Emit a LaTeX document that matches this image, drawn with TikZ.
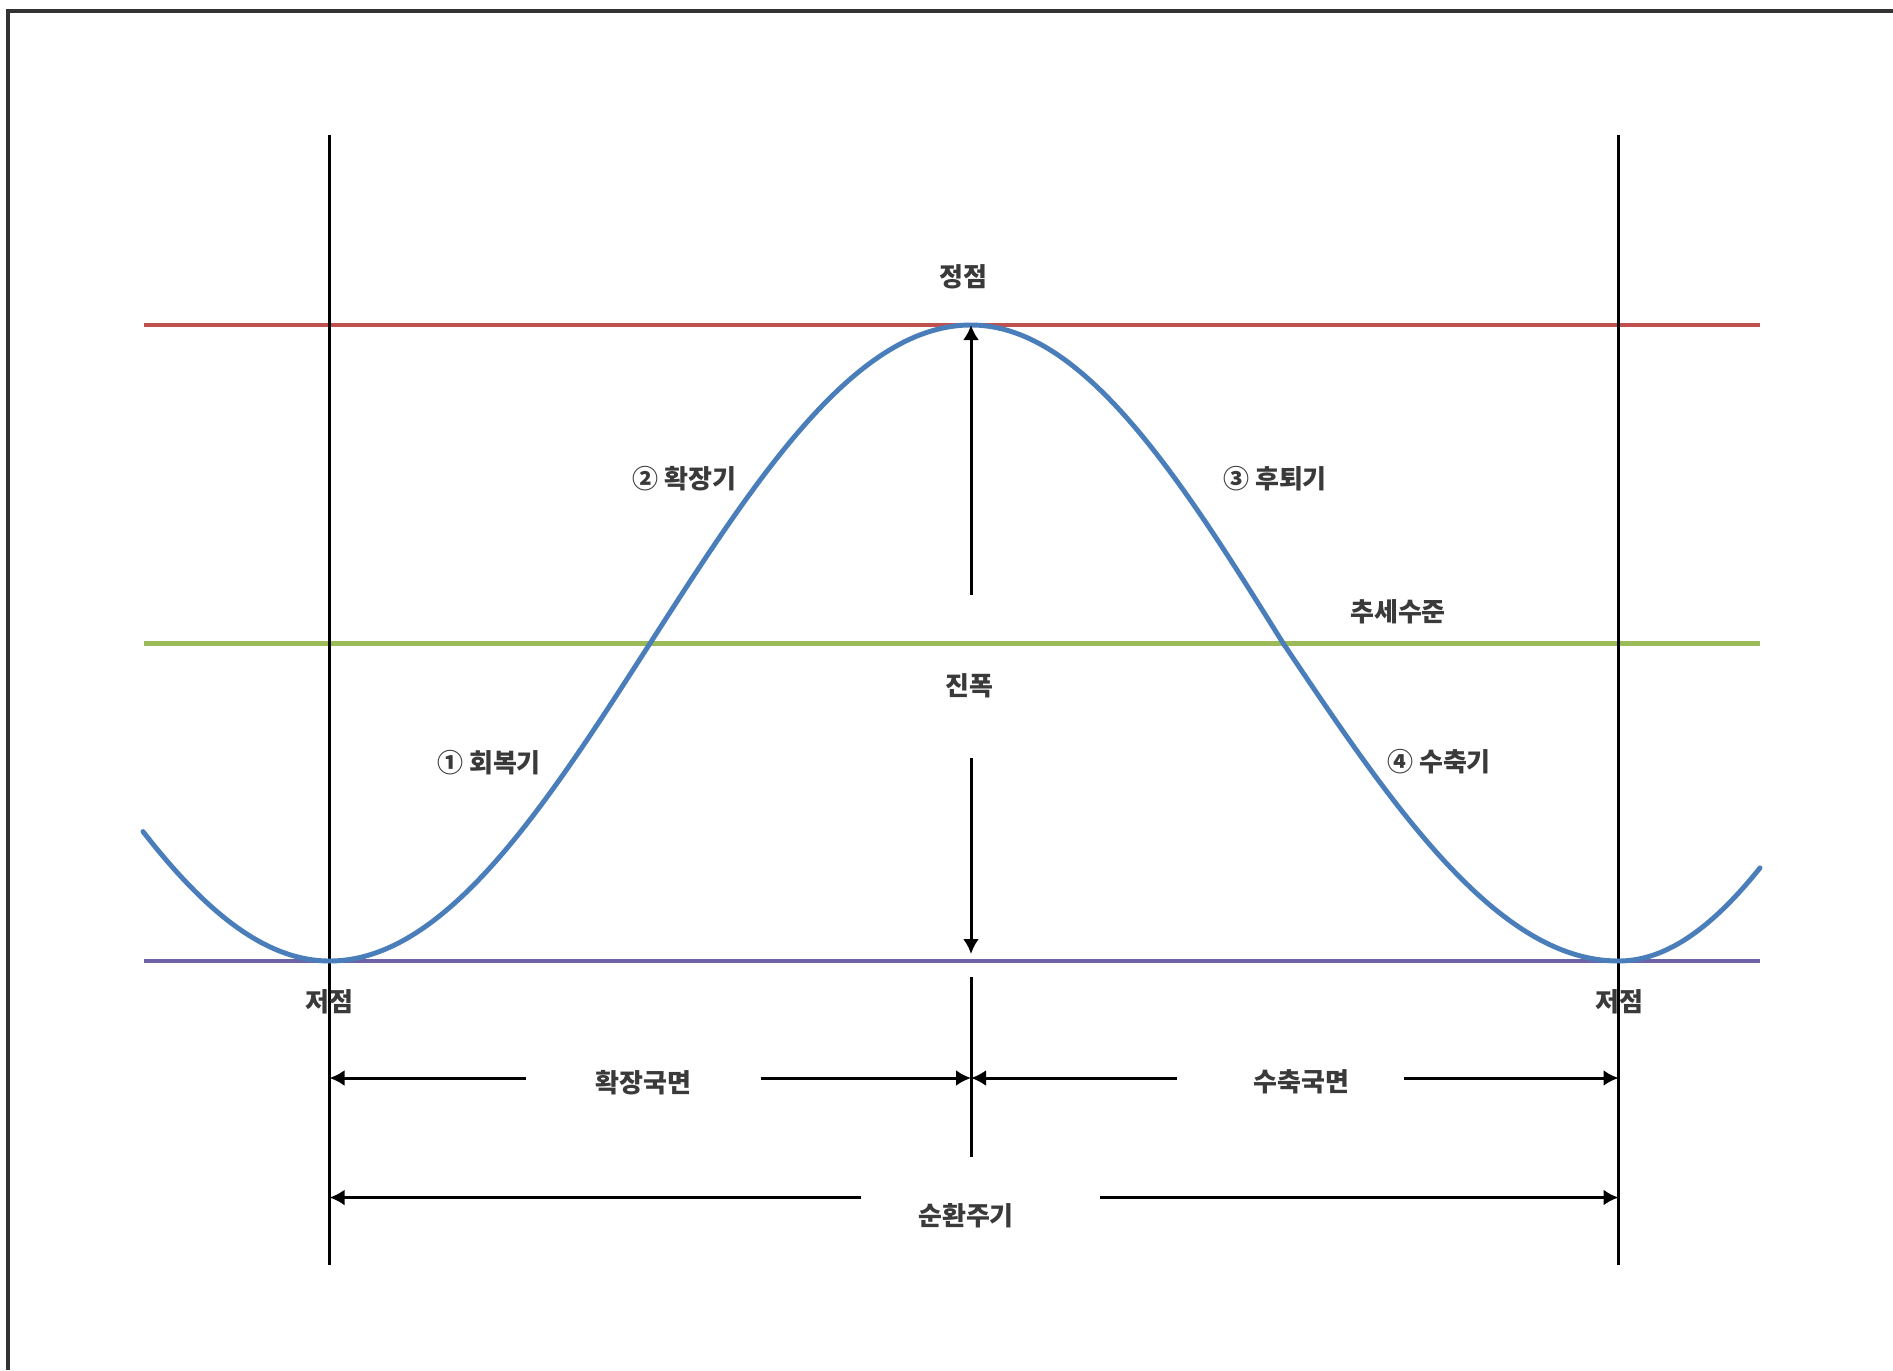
\documentclass[tikz,border=0pt]{standalone}
\usepackage{fontspec}
\setmainfont{Noto Sans CJK KR}
\usetikzlibrary{arrows.meta}
\definecolor{peakred}{HTML}{C0504D}
\definecolor{trendgreen}{HTML}{9BBB59}
\definecolor{troughpurple}{HTML}{6E63A6}
\definecolor{curveblue}{HTML}{4A7EBB}
\definecolor{labelgray}{HTML}{3A3A3A}
\begin{document}
\begin{tikzpicture}[x=0.1mm,y=-0.1mm,
  lbl/.style={font=\fontsize{7.4}{9}\selectfont\bfseries, text=labelgray, inner sep=1pt},
  level/.style={line width=1.4pt},
  guide/.style={line width=0.85pt, black},
  wave/.style={line width=1.4pt, curveblue, line join=round, line cap=round},
  arr/.style={guide, -{Latex[length=1.5mm,width=1.6mm]}}]
\useasboundingbox (0,0) rectangle (1893,1370);
\fill[white] (0,0) rectangle (1893,1370);
% frame
\draw[line width=0.9pt, black!80] (8,1370) -- (8,11) -- (1893,11);
% coordinates
\coordinate (vlt) at (329.5,135);
\coordinate (vlb) at (329.5,1265);
\coordinate (vrt) at (1618.5,135);
\coordinate (vrb) at (1618.5,1265);
\coordinate (peak) at (971,325);
\coordinate (trough) at (971,961);
% level lines
\draw[level, peakred] (144,325) -- (1760,325);
\draw[level, trendgreen] (144,643.5) -- (1760,643.5);
\draw[level, troughpurple] (144,961) -- (1760,961);
% vertical lines
\draw[guide] (vlt) -- (vlb);
\draw[guide] (vrt) -- (vrb);
% curve (piecewise cosine, joined at troughs, peak and inflection)
\draw[wave] plot[domain=143:329.5, samples=40, smooth] (\x, {643+318*cos(0.2876*(\x-329.5))})
  -- plot[domain=329.5:971, samples=120, smooth] (\x, {643+318*cos(0.2806*(\x-329.5))})
  -- plot[domain=971:1283, samples=60, smooth] (\x, {643-318*cos(0.28846*(\x-971))})
  -- plot[domain=1283:1618.5, samples=60, smooth] (\x, {643+318*sin(0.26826*(\x-1283))})
  -- plot[domain=1618.5:1760, samples=30, smooth] (\x, {643+318*cos(0.318*(\x-1618.5))});
% labels
\node[lbl] (peakl) at (963,276.5) {정점};
\node[lbl] (troughl) at (329.5,1002) {저점};
\node[lbl] (troughr) at (1619,1002) {저점};
\node[lbl] (expand) at (684.5,479) {② 확장기};
\node[lbl] (recess) at (1275,479) {③ 후퇴기};
\node[lbl] (trend) at (1398,612) {추세수준};
\node[lbl] (amp) at (969.5,686) {진폭};
\node[lbl] (recov) at (489,763) {① 회복기};
\node[lbl] (contr) at (1439,762) {④ 수축기};
\node[lbl] (expph) at (643.5,1083) {확장국면};
\node[lbl] (conph) at (1301.5,1082) {수축국면};
\node[lbl] (cycle) at (966,1216) {순환주기};
% amplitude arrows
\coordinate (ampup) at (971,595);
\coordinate (ampdn) at (971,758);
\coordinate (ampbot) at (971,954);
\draw[arr] (ampup) -- (peak);
\draw[arr] (ampdn) -- (ampbot);
% center divider
\coordinate (divt) at (971,977);
\coordinate (divb) at (971,1157);
\draw[guide] (divt) -- (divb);
% phase arrows
\coordinate (ph1a) at (526,1078);
\coordinate (ph1b) at (329.5,1078);
\coordinate (ph2a) at (760.5,1078);
\coordinate (ph2b) at (971,1078);
\coordinate (ph3a) at (1177,1078);
\coordinate (ph3b) at (971,1078);
\coordinate (ph4a) at (1404,1078);
\coordinate (ph4b) at (1618.5,1078);
\draw[arr] (ph1a) -- (ph1b);
\draw[arr] (ph2a) -- (ph2b);
\draw[arr] (ph3a) -- (ph3b);
\draw[arr] (ph4a) -- (ph4b);
% cycle arrows
\coordinate (cy1a) at (861,1197.5);
\coordinate (cy1b) at (329.5,1197.5);
\coordinate (cy2a) at (1100,1197.5);
\coordinate (cy2b) at (1618.5,1197.5);
\draw[arr] (cy1a) -- (cy1b);
\draw[arr] (cy2a) -- (cy2b);
\end{tikzpicture}
\end{document}
